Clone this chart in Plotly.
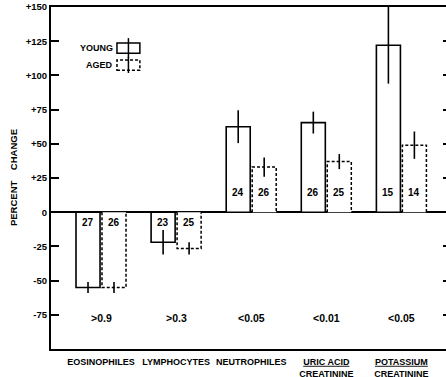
import plotly.graph_objects as go

categories = ["EOSINOPHILES", "LYMPHOCYTES", "NEUTROPHILES",
              "<u>URIC ACID</u><br>CREATININE", "<u>POTASSIUM</u><br>CREATININE"]
young_vals = [-55, -22, 62.5, 65.5, 122]
young_err = [4, 9, 12, 8, 28]
young_n = [27, 23, 24, 26, 15]
aged_vals = [-55, -26.5, 33, 37, 49]
aged_err = [4, 4.5, 7, 5.5, 10]
aged_n = [26, 25, 26, 25, 14]
p_values = [">0.9", ">0.3", "<0.05", "<0.01", "<0.05"]
y_ticks = [150, 125, 100, 75, 50, 25, 0, -25, -50, -75]
y_ticktext = ["+150", "+125", "+100", "+75", "+50", "+25", "0", "-25", "-50", "-75"]

FONT = "Liberation Sans"
BW = 0.32
OFF_Y = -0.333
OFF_A = 0.013

xs = list(range(len(categories)))

fig = go.Figure()

fig.add_trace(go.Bar(
    x=xs, y=young_vals, width=BW, offset=OFF_Y,
    marker=dict(color="white", line=dict(color="black", width=1.6)),
    error_y=dict(type="data", array=young_err, color="black", thickness=1.6, width=0),
    showlegend=False,
))
fig.add_trace(go.Bar(
    x=xs, y=aged_vals, width=BW, offset=OFF_A,
    marker=dict(color="white", line=dict(color="white", width=0)),
    error_y=dict(type="data", array=aged_err, color="black", thickness=1.6, width=0),
    showlegend=False,
))

# dashed outline of aged bars, built from the data
ox, oy = [], []
for i, v in zip(xs, aged_vals):
    x0 = i + OFF_A
    x1 = x0 + BW
    ox += [x0, x0, x1, x1, None]
    oy += [0, v, v, 0, None]
fig.add_trace(go.Scatter(x=ox, y=oy, mode="lines",
                         line=dict(color="black", width=1.5, dash="3px,2px"),
                         showlegend=False, hoverinfo="skip"))

# invisible trace for right-side ticks
fig.add_trace(go.Scatter(x=[0], y=[0], yaxis="y2", mode="markers",
                         marker=dict(opacity=0), showlegend=False, hoverinfo="skip"))

numfont = dict(family=FONT, size=10, color="black", weight="bold")
for i, v, n in zip(xs, young_vals, young_n):
    fig.add_annotation(x=i + OFF_Y + BW / 2, y=0, text=str(n), showarrow=False,
                       yshift=20 if v > 0 else -10, font=numfont)
for i, v, n in zip(xs, aged_vals, aged_n):
    fig.add_annotation(x=i + OFF_A + BW / 2, y=0, text=str(n), showarrow=False,
                       yshift=20 if v > 0 else -10, font=numfont)

for i, p in zip(xs, p_values):
    fig.add_annotation(x=i, y=-77, text=p, showarrow=False,
                       font=dict(family=FONT, size=10.5, color="black", weight="bold"))

fig.add_annotation(xref="paper", yref="paper", x=-0.096, y=0.5,
                   xanchor="center", yanchor="middle",
                   text="PERCENT\u00a0\u00a0\u00a0\u00a0CHANGE", textangle=-90, showarrow=False,
                   font=dict(family=FONT, size=9.5, color="black", weight="bold"))

# custom legend
fig.add_annotation(xref="paper", yref="paper", x=0.162, y=0.880, xanchor="right", yanchor="middle",
                   text="YOUNG", showarrow=False,
                   font=dict(family=FONT, size=9, color="black", weight="bold"))
fig.add_annotation(xref="paper", yref="paper", x=0.162, y=0.830, xanchor="right", yanchor="middle",
                   text="AGED", showarrow=False,
                   font=dict(family=FONT, size=9, color="black", weight="bold"))
fig.add_shape(type="rect", xref="paper", yref="paper", x0=0.167, x1=0.225, y0=0.865, y1=0.895,
              line=dict(color="black", width=1.5), fillcolor="white")
fig.add_shape(type="line", xref="paper", yref="paper", x0=0.196, x1=0.196, y0=0.851, y1=0.909,
              line=dict(color="black", width=1.5))
fig.add_shape(type="rect", xref="paper", yref="paper", x0=0.167, x1=0.225, y0=0.815, y1=0.845,
              line=dict(color="black", width=1.5, dash="3px,2px"), fillcolor="white")
fig.add_shape(type="line", xref="paper", yref="paper", x0=0.196, x1=0.196, y0=0.807, y1=0.854,
              line=dict(color="black", width=1.5))

fig.update_layout(
    width=446, height=377,
    margin=dict(l=51, r=0, t=7, b=28),
    plot_bgcolor="white", paper_bgcolor="white",
    barmode="overlay",
    xaxis=dict(range=[-0.666, 4.594], tickvals=xs, ticktext=categories,
               showline=True, linecolor="black", linewidth=2, mirror=True,
               ticks="", showgrid=False, zeroline=False, automargin=False,
               ticklabelstandoff=3,
               tickfont=dict(family=FONT, size=9, color="black", weight="bold")),
    yaxis=dict(range=[-100, 150], tickvals=y_ticks, ticktext=y_ticktext,
               showline=True, linecolor="black", linewidth=2, automargin=False,
               ticks="inside", ticklen=8, tickwidth=1.5, tickcolor="black",
               showgrid=False, zeroline=True, zerolinecolor="black", zerolinewidth=2,
               tickfont=dict(family=FONT, size=9.5, color="black", weight="bold")),
    yaxis2=dict(range=[-100, 150], overlaying="y", side="right", anchor="x",
                tickvals=[125, 100, 75, 50, 25, -25, -50, -75], automargin=False,
                ticks="inside", ticklen=3, tickwidth=1.5, tickcolor="black",
                showticklabels=False, showline=False, showgrid=False, zeroline=False),
)

fig.write_html("out.html", config={"displayModeBar": False},
               post_script="document.body.style.margin='0';document.body.style.overflow='hidden';")
